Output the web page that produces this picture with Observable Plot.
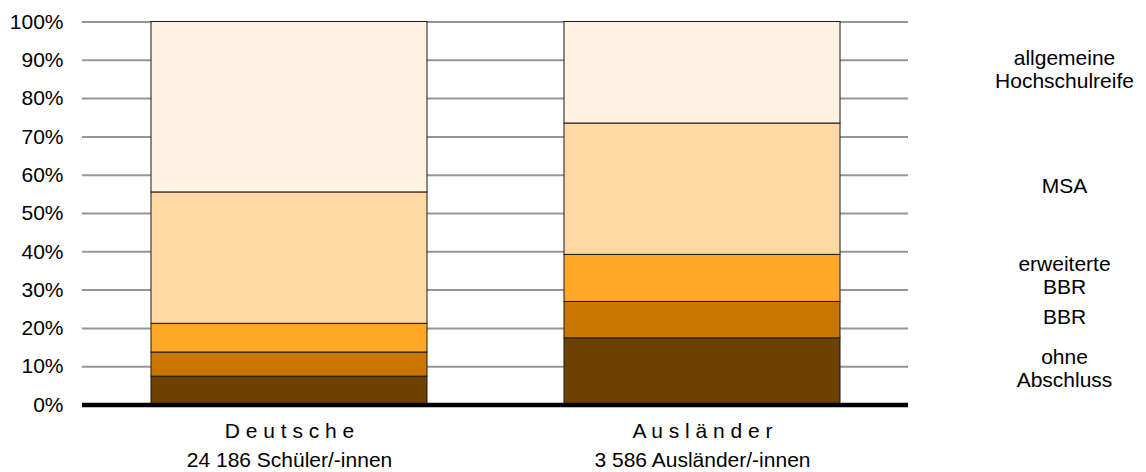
<!DOCTYPE html>
<html>
<head>
<meta charset="utf-8">
<script src="https://cdn.jsdelivr.net/npm/d3@7"></script>
<script src="https://cdn.jsdelivr.net/npm/@observablehq/plot@0.6"></script>
<style>
  html, body { margin: 0; padding: 0; background: #fff; }
  svg { font-family: "Liberation Sans", Arial, sans-serif; }
</style>
</head>
<body>
<div id="chart"></div>
<script>
// Groups (x axis) and their secondary labels
const groups = ["D e u t s c h e", "A u s l ä n d e r"];
const groupCounts = ["24 186 Schüler/-innen", "3 586 Ausländer/-innen"];

// Stacked categories, bottom to top
const categories = ["ohne Abschluss", "BBR", "erweiterte BBR", "MSA", "allgemeine Hochschulreife"];
const legendLabels = ["ohne\nAbschluss", "BBR", "erweiterte\nBBR", "MSA", "allgemeine\nHochschulreife"];
const colors = ["#6e4100", "#c97700", "#ffa726", "#ffd9a3", "#fff2e1"];

// Shares in percent (per category, bottom to top)
const deutsche = [7.4, 6.3, 7.5, 34.3, 44.5];
const auslaender = [17.4, 9.5, 12.3, 34.3, 26.5];

// Y ticks
const yTicks = [0, 10, 20, 30, 40, 50, 60, 70, 80, 90, 100];

const series = [deutsche, auslaender];
const data = [];
groups.forEach((g, gi) => {
  categories.forEach((c, ci) => {
    data.push({group: g, category: c, value: series[gi][ci]});
  });
});

// Legend positions: midpoints of the Ausländer segments
let acc = 0;
const legendData = categories.map((c, i) => {
  const mid = acc + auslaender[i] / 2;
  acc += auslaender[i];
  return {label: legendLabels[i], y: mid};
});

const font = 21;

const chart = Plot.plot({
  width: 1146,
  height: 472,
  marginLeft: 82,
  marginRight: 238,
  marginTop: 21.5,
  marginBottom: 67.5,
  style: {fontFamily: '"Liberation Sans", Arial, sans-serif', fontSize: font + "px", color: "#000", background: "#fff"},
  x: {domain: groups, paddingInner: 0.332, paddingOuter: 0.166, label: null},
  y: {domain: [0, 100], label: null},
  color: {domain: categories, range: colors},
  marks: [
    Plot.ruleY(yTicks.filter(d => d > 0), {stroke: "#969696", strokeWidth: 2}),
    Plot.barY(data, {x: "group", y: "value", fill: "category", stroke: "#1a1a1a", strokeWidth: 1, order: categories}),
    Plot.ruleY([0], {stroke: "#000", strokeWidth: 4.5}),
    Plot.axisY({ticks: yTicks, tickSize: 0, tickPadding: 19, tickFormat: d => d + "%", fontSize: font, label: null}),
    Plot.axisX({tickSize: 0, tickPadding: 18.3, fontSize: font, label: null}),
    Plot.axisX({tickSize: 0, tickPadding: 47.5, fontSize: font, label: null,
      tickFormat: d => groupCounts[groups.indexOf(d)]}),
    Plot.text(legendData, {
      y: "y", text: "label", frameAnchor: "right", dx: 156, dy: -3.5,
      textAnchor: "middle", lineHeight: 1.11, fontSize: font, fill: "#000"
    })
  ]
});

document.getElementById("chart").appendChild(chart);
</script>
</body>
</html>
